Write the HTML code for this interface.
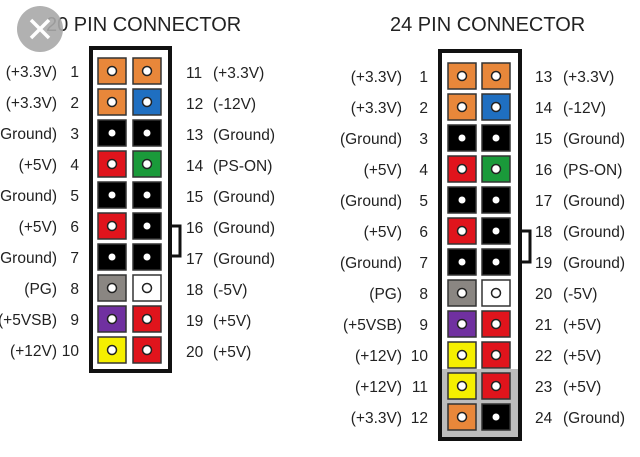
<!DOCTYPE html>
<html><head><meta charset="utf-8"><style>
html,body{margin:0;padding:0;background:#fff;width:640px;height:457px;overflow:hidden}
text{font-family:"Liberation Sans",sans-serif;font-size:15.5px;fill:#222;white-space:pre}
</style></head><body>
<svg width="640" height="457" viewBox="0 0 640 457" xmlns="http://www.w3.org/2000/svg" xml:space="preserve">
<defs>
<g id="dw"><circle r="4.5" fill="#fff" stroke="#222" stroke-width="1.5"/></g>
<g id="db"><circle r="3.5" fill="#fff"/></g>
</defs>
<text x="46" y="31" style="font-size:20px">20 PIN CONNECTOR</text>
<text x="390" y="31" style="font-size:20px">24 PIN CONNECTOR</text>
<circle cx="40" cy="29" r="23" fill="#a9a9a9" opacity="0.9"/>
<path d="M31 20 L49 38 M49 20 L31 38" stroke="#fff" stroke-width="3.5"/>

<rect x="91" y="48" width="79" height="323" fill="#fff" stroke="#111" stroke-width="4"/>
<path d="M170 226 H180 V256 H170" fill="none" stroke="#111" stroke-width="3"/>
<g stroke="#333" stroke-width="1.5">
<rect x="98" y="58" width="28" height="26" fill="#e8873a"/><rect x="133" y="58" width="28" height="26" fill="#e8873a"/>
<rect x="98" y="89" width="28" height="26" fill="#e8873a"/><rect x="133" y="89" width="28" height="26" fill="#1f6fc1"/>
<rect x="98" y="120" width="28" height="26" fill="#000"/><rect x="133" y="120" width="28" height="26" fill="#000"/>
<rect x="98" y="151" width="28" height="26" fill="#e0141c"/><rect x="133" y="151" width="28" height="26" fill="#1a9a3a"/>
<rect x="98" y="182" width="28" height="26" fill="#000"/><rect x="133" y="182" width="28" height="26" fill="#000"/>
<rect x="98" y="213" width="28" height="26" fill="#e0141c"/><rect x="133" y="213" width="28" height="26" fill="#000"/>
<rect x="98" y="244" width="28" height="26" fill="#000"/><rect x="133" y="244" width="28" height="26" fill="#000"/>
<rect x="98" y="275" width="28" height="26" fill="#8a8682"/><rect x="133" y="275" width="28" height="26" fill="#fff"/>
<rect x="98" y="306" width="28" height="26" fill="#7030a0"/><rect x="133" y="306" width="28" height="26" fill="#e0141c"/>
<rect x="98" y="337" width="28" height="26" fill="#f5ef00"/><rect x="133" y="337" width="28" height="26" fill="#e0141c"/>
</g>
<use href="#dw" x="112" y="71"/><use href="#dw" x="147" y="71"/>
<use href="#dw" x="112" y="102"/><use href="#dw" x="147" y="102"/>
<use href="#db" x="112" y="133"/><use href="#db" x="147" y="133"/>
<use href="#dw" x="112" y="164"/><use href="#dw" x="147" y="164"/>
<use href="#db" x="112" y="195"/><use href="#db" x="147" y="195"/>
<use href="#dw" x="112" y="226"/><use href="#db" x="147" y="226"/>
<use href="#db" x="112" y="257"/><use href="#db" x="147" y="257"/>
<use href="#dw" x="112" y="288"/><use href="#dw" x="147" y="288"/>
<use href="#dw" x="112" y="319"/><use href="#dw" x="147" y="319"/>
<use href="#dw" x="112" y="350"/><use href="#dw" x="147" y="350"/>
<g text-anchor="end">
<text x="57" y="77">(+3.3V)</text><text x="57" y="108">(+3.3V)</text><text x="57" y="139">(Ground)</text><text x="57" y="170">(+5V)</text><text x="57" y="201">(Ground)</text><text x="57" y="232">(+5V)</text><text x="57" y="263">(Ground)</text><text x="57" y="294">(PG)</text><text x="57" y="325">(+5VSB)</text><text x="57" y="356">(+12V)</text>
<text x="79" y="77">1</text><text x="79" y="108">2</text><text x="79" y="139">3</text><text x="79" y="170">4</text><text x="79" y="201">5</text><text x="79" y="232">6</text><text x="79" y="263">7</text><text x="79" y="294">8</text><text x="79" y="325">9</text><text x="79" y="356">10</text>
</g>
<g>
<text x="186" y="78">11</text><text x="186" y="109">12</text><text x="186" y="140">13</text><text x="186" y="171">14</text><text x="186" y="202">15</text><text x="186" y="233">16</text><text x="186" y="264">17</text><text x="186" y="295">18</text><text x="186" y="326">19</text><text x="186" y="357">20</text>
<text x="213" y="78">(+3.3V)</text><text x="213" y="109">(-12V)</text><text x="213" y="140">(Ground)</text><text x="213" y="171">(PS-ON)</text><text x="213" y="202">(Ground)</text><text x="213" y="233">(Ground)</text><text x="213" y="264">(Ground)</text><text x="213" y="295">(-5V)</text><text x="213" y="326">(+5V)</text><text x="213" y="357">(+5V)</text>
</g>

<rect x="440" y="51" width="80" height="388" fill="#fff" stroke="#111" stroke-width="4"/>
<rect x="442" y="369" width="76" height="68" fill="#bdbdbd"/>
<path d="M520 231 H530 V262 H520" fill="none" stroke="#111" stroke-width="3"/>
<g stroke="#333" stroke-width="1.5">
<rect x="448" y="63" width="28" height="26" fill="#e8873a"/><rect x="482" y="63" width="28" height="26" fill="#e8873a"/>
<rect x="448" y="94" width="28" height="26" fill="#e8873a"/><rect x="482" y="94" width="28" height="26" fill="#1f6fc1"/>
<rect x="448" y="125" width="28" height="26" fill="#000"/><rect x="482" y="125" width="28" height="26" fill="#000"/>
<rect x="448" y="156" width="28" height="26" fill="#e0141c"/><rect x="482" y="156" width="28" height="26" fill="#1a9a3a"/>
<rect x="448" y="187" width="28" height="26" fill="#000"/><rect x="482" y="187" width="28" height="26" fill="#000"/>
<rect x="448" y="218" width="28" height="26" fill="#e0141c"/><rect x="482" y="218" width="28" height="26" fill="#000"/>
<rect x="448" y="249" width="28" height="26" fill="#000"/><rect x="482" y="249" width="28" height="26" fill="#000"/>
<rect x="448" y="280" width="28" height="26" fill="#8a8682"/><rect x="482" y="280" width="28" height="26" fill="#fff"/>
<rect x="448" y="311" width="28" height="26" fill="#7030a0"/><rect x="482" y="311" width="28" height="26" fill="#e0141c"/>
<rect x="448" y="342" width="28" height="26" fill="#f5ef00"/><rect x="482" y="342" width="28" height="26" fill="#e0141c"/>
<rect x="448" y="373" width="28" height="26" fill="#f5ef00"/><rect x="482" y="373" width="28" height="26" fill="#e0141c"/>
<rect x="448" y="404" width="28" height="26" fill="#e8873a"/><rect x="482" y="404" width="28" height="26" fill="#000"/>
</g>
<use href="#dw" x="462" y="76"/><use href="#dw" x="496" y="76"/>
<use href="#dw" x="462" y="107"/><use href="#dw" x="496" y="107"/>
<use href="#db" x="462" y="138"/><use href="#db" x="496" y="138"/>
<use href="#dw" x="462" y="169"/><use href="#dw" x="496" y="169"/>
<use href="#db" x="462" y="200"/><use href="#db" x="496" y="200"/>
<use href="#dw" x="462" y="231"/><use href="#db" x="496" y="231"/>
<use href="#db" x="462" y="262"/><use href="#db" x="496" y="262"/>
<use href="#dw" x="462" y="293"/><use href="#dw" x="496" y="293"/>
<use href="#dw" x="462" y="324"/><use href="#dw" x="496" y="324"/>
<use href="#dw" x="462" y="355"/><use href="#dw" x="496" y="355"/>
<use href="#dw" x="462" y="386"/><use href="#dw" x="496" y="386"/>
<use href="#dw" x="462" y="417"/><use href="#db" x="496" y="417"/>
<g text-anchor="end">
<text x="402" y="82">(+3.3V)</text><text x="402" y="113">(+3.3V)</text><text x="402" y="144">(Ground)</text><text x="402" y="175">(+5V)</text><text x="402" y="206">(Ground)</text><text x="402" y="237">(+5V)</text><text x="402" y="268">(Ground)</text><text x="402" y="299">(PG)</text><text x="402" y="330">(+5VSB)</text><text x="402" y="361">(+12V)</text><text x="402" y="392">(+12V)</text><text x="402" y="423">(+3.3V)</text>
<text x="428" y="82">1</text><text x="428" y="113">2</text><text x="428" y="144">3</text><text x="428" y="175">4</text><text x="428" y="206">5</text><text x="428" y="237">6</text><text x="428" y="268">7</text><text x="428" y="299">8</text><text x="428" y="330">9</text><text x="428" y="361">10</text><text x="428" y="392">11</text><text x="428" y="423">12</text>
</g>
<g>
<text x="535" y="82">13</text><text x="535" y="113">14</text><text x="535" y="144">15</text><text x="535" y="175">16</text><text x="535" y="206">17</text><text x="535" y="237">18</text><text x="535" y="268">19</text><text x="535" y="299">20</text><text x="535" y="330">21</text><text x="535" y="361">22</text><text x="535" y="392">23</text><text x="535" y="423">24</text>
<text x="563" y="82">(+3.3V)</text><text x="563" y="113">(-12V)</text><text x="563" y="144">(Ground)</text><text x="563" y="175">(PS-ON)</text><text x="563" y="206">(Ground)</text><text x="563" y="237">(Ground)</text><text x="563" y="268">(Ground)</text><text x="563" y="299">(-5V)</text><text x="563" y="330">(+5V)</text><text x="563" y="361">(+5V)</text><text x="563" y="392">(+5V)</text><text x="563" y="423">(Ground)</text>
</g>
</svg>
</body></html>
